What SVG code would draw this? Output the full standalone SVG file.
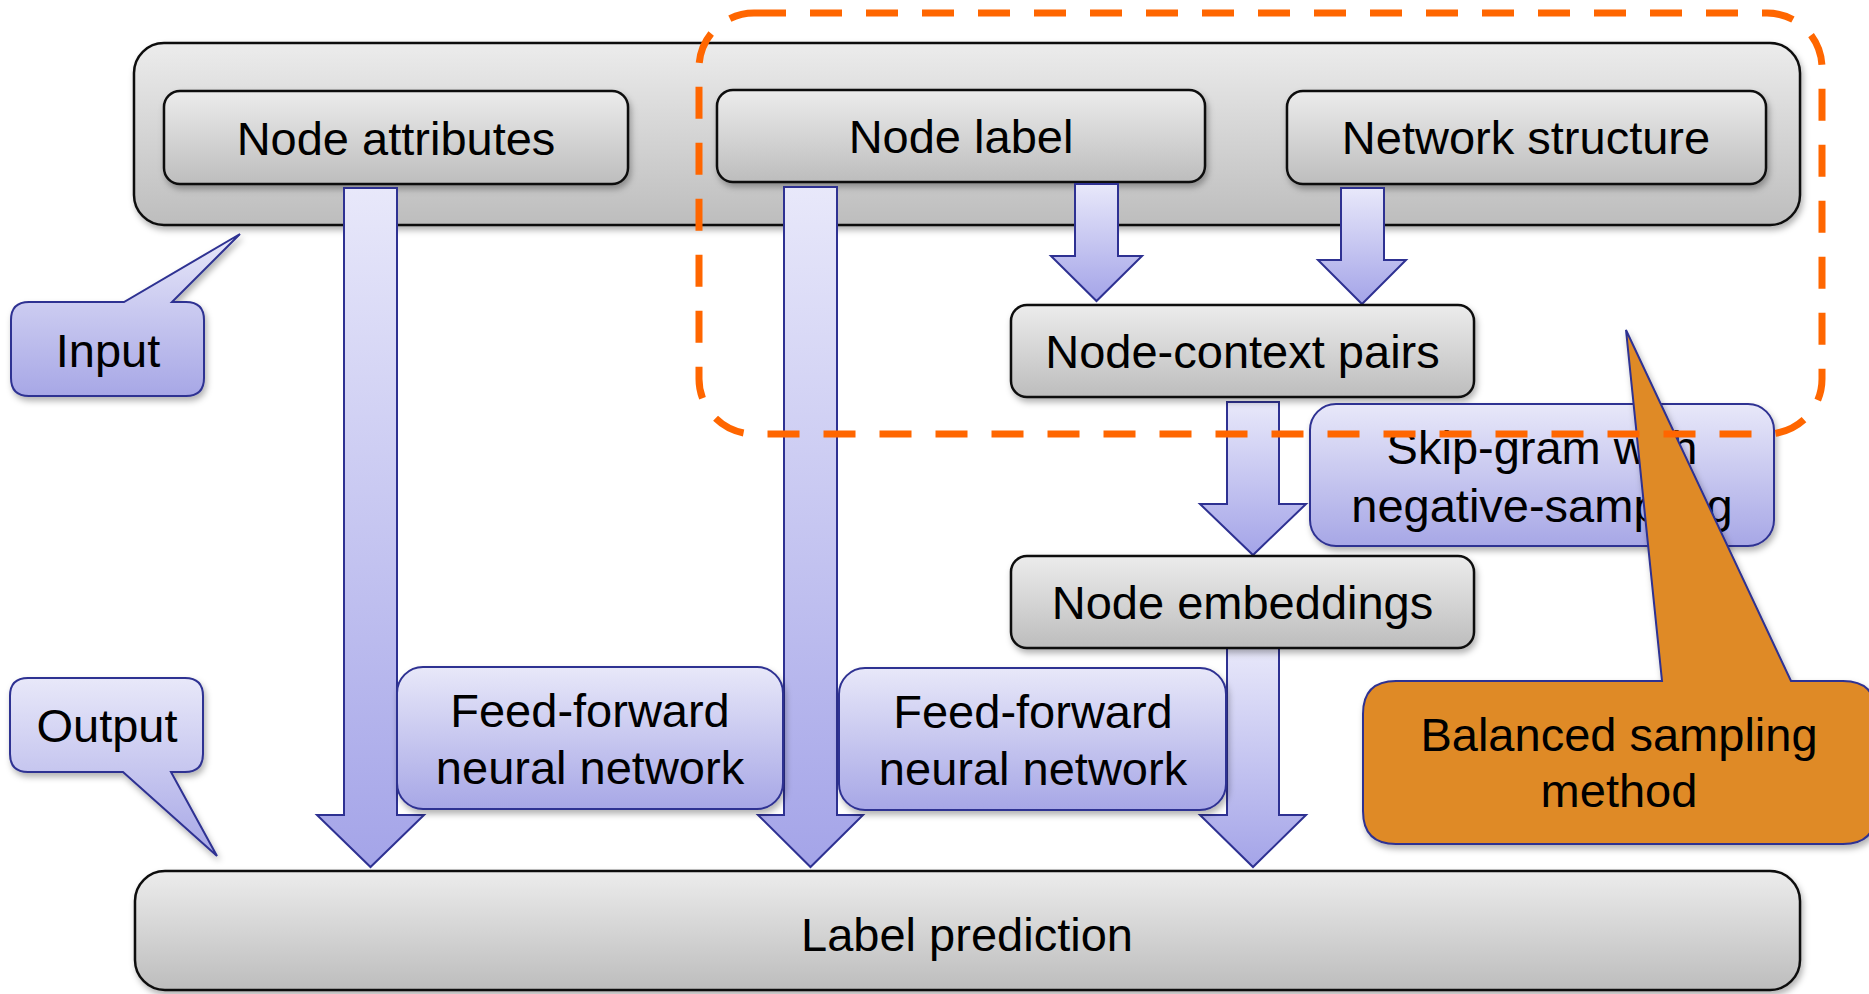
<svg xmlns="http://www.w3.org/2000/svg" width="1869" height="994" viewBox="0 0 1869 994">
<defs>
<linearGradient id="gGray" x1="0" y1="0" x2="0" y2="1">
<stop offset="0" stop-color="#ECECEC"/>
<stop offset="1" stop-color="#BDBDBD"/>
</linearGradient>
<linearGradient id="gBlue" x1="0" y1="0" x2="0" y2="1">
<stop offset="0" stop-color="#E8E8F9"/>
<stop offset="1" stop-color="#A7A7E6"/>
</linearGradient>
<linearGradient id="gArrow" x1="0" y1="0" x2="0" y2="1">
<stop offset="0" stop-color="#E8E8FA"/>
<stop offset="1" stop-color="#A4A4E8"/>
</linearGradient>
<filter id="sh" x="-10%" y="-10%" width="120%" height="130%">
<feDropShadow dx="2" dy="4" stdDeviation="3" flood-color="#000" flood-opacity="0.3"/>
</filter>
</defs>
<style>
.gray{fill:url(#gGray);stroke:#111;stroke-width:2.5;filter:url(#sh)}
.blue{fill:url(#gBlue);stroke:#2E3192;stroke-width:2;filter:url(#sh)}
.arrow{fill:url(#gArrow);stroke:#2E3192;stroke-width:2}
.orange{fill:#DF8A25;stroke:#2E3192;stroke-width:2;filter:url(#sh)}
.t{font-family:"Liberation Sans",Arial,sans-serif;font-size:47px;fill:#000;text-anchor:middle}
.dash{fill:none;stroke:#FF6600;stroke-width:7;stroke-dasharray:32 24}
</style>
<rect width="1869" height="994" fill="#FFFFFF"/>

<g id="input-container">
<rect class="gray" x="134" y="43" width="1666" height="182" rx="30"/>
</g>
<g id="node-attributes">
<rect class="gray" x="164" y="91" width="464" height="93" rx="16"/>
<text class="t" x="396" y="155">Node attributes</text>
</g>
<g id="node-label">
<rect class="gray" x="717" y="90" width="488" height="92" rx="16"/>
<text class="t" x="961" y="153">Node label</text>
</g>
<g id="network-structure">
<rect class="gray" x="1287" y="91" width="479" height="93" rx="16"/>
<text class="t" x="1526" y="154">Network structure</text>
</g>
<g id="label-prediction">
<rect class="gray" x="135" y="871" width="1665" height="119" rx="30"/>
<text class="t" x="967" y="951">Label prediction</text>
</g>

<g id="connectors">
<polygon class="arrow" points="344,188 397,188 397,815 424,815 370.5,867 317,815 344,815"/>
<polygon class="arrow" points="784,187 837,187 837,815 863,815 810.5,867 758,815 784,815"/>
<polygon class="arrow" points="1227,648 1279,648 1279,815 1306,815 1253,867 1200,815 1227,815"/>
<polygon class="arrow" points="1227,402 1279,402 1279,504 1306,504 1253,555 1200,504 1227,504"/>
<polygon class="arrow" points="1075,184 1118,184 1118,256 1142,256 1096.5,301 1051,256 1075,256"/>
<polygon class="arrow" points="1341,188 1384,188 1384,260 1406,260 1362,304 1318,260 1341,260"/>
</g>

<g id="feed-forward-1">
<rect class="blue" x="397" y="667" width="386" height="142" rx="26"/>
<text class="t" x="590" y="727">Feed-forward</text>
<text class="t" x="590" y="784">neural network</text>
</g>
<g id="feed-forward-2">
<rect class="blue" x="839" y="668" width="387" height="142" rx="26"/>
<text class="t" x="1033" y="728">Feed-forward</text>
<text class="t" x="1033" y="785">neural network</text>
</g>
<g id="node-context-pairs">
<rect class="gray" x="1011" y="305" width="463" height="92" rx="16"/>
<text class="t" x="1242.5" y="368">Node-context pairs</text>
</g>
<g id="node-embeddings">
<rect class="gray" x="1011" y="556" width="463" height="92" rx="16"/>
<text class="t" x="1242.5" y="619">Node embeddings</text>
</g>
<g id="skip-gram">
<rect class="blue" x="1310" y="404" width="464" height="142" rx="26"/>
<text class="t" x="1542" y="464">Skip-gram with</text>
<text class="t" x="1542" y="522">negative-sampling</text>
</g>

<g id="input-callout">
<path class="blue" d="M29,302 L124,302 L240,234 L172,302 L186,302 Q204,302 204,320 L204,378 Q204,396 186,396 L29,396 Q11,396 11,378 L11,320 Q11,302 29,302 Z"/>
<text class="t" x="108" y="367">Input</text>
</g>
<g id="output-callout">
<path class="blue" d="M28,678 L185,678 Q203,678 203,696 L203,754 Q203,772 185,772 L171,772 L217,856 L123,772 L28,772 Q10,772 10,754 L10,696 Q10,678 28,678 Z"/>
<text class="t" x="107" y="742">Output</text>
</g>

<g id="balanced-sampling-callout">
<path class="orange" d="M1396,681 L1662,681 L1626,330 L1791,681 L1843,681 Q1876,681 1876,714 L1876,811 Q1876,844 1843,844 L1396,844 Q1363,844 1363,811 L1363,714 Q1363,681 1396,681 Z"/>
<text class="t" x="1619" y="751">Balanced sampling</text>
<text class="t" x="1619" y="807">method</text>
</g>

<g id="highlight-region">
<rect class="dash" x="699" y="13" width="1123" height="421" rx="55"/>
</g>
</svg>
